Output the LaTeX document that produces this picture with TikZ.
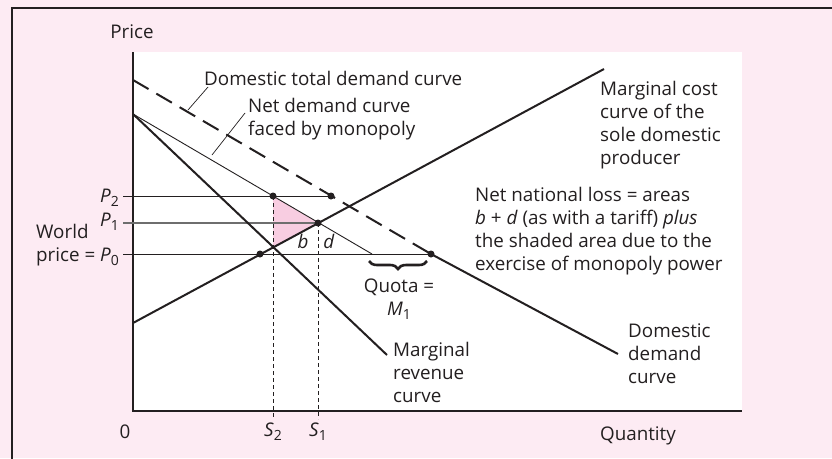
\documentclass[tikz,border=0pt]{standalone}
\usepackage{fontspec}
\setmainfont{Open Sans}
\usetikzlibrary{decorations.pathreplacing}
\definecolor{panelpink}{HTML}{FDEBF3}
\definecolor{losspink}{HTML}{F8CDE1}
\definecolor{pricegray}{HTML}{6E6E6E}
\definecolor{inkdark}{HTML}{231F20}
\newcommand{\ital}[2]{\textit{#1}\raisebox{-0.45ex}{\fontsize{14}{14}\selectfont #2}}

\begin{document}
\begin{tikzpicture}[x=1pt, y=-1pt, font=\fontsize{18.8}{23}\selectfont, color=inkdark,
  curve/.style={line width=2pt},
  thinline/.style={line width=0.9pt},
  guide/.style={line width=0.8pt, dash pattern=on 4pt off 3pt},
  dot/.style={circle, fill=inkdark, inner sep=0pt, minimum size=7pt},
  lbl/.style={align=left, inner sep=0pt, anchor=base west},
  leader/.style={line width=0.7pt}]
% background panel
\fill[panelpink] (0,0) rectangle (832,458);
\useasboundingbox (0,0) rectangle (832,458);
\draw[line width=1.6pt] (12,460) -- (12,8) -- (834,8);
\fill[white] (133,52) rectangle (742,411);
% key points
\coordinate (orig) at (133,411);
\coordinate (ytop) at (133,52);
\coordinate (xend) at (742,411);
\coordinate (dtop) at (133,80);
\coordinate (ntop) at (133,114);
\coordinate (mcbot) at (133,323);
\coordinate (mctop) at (604,69);
\coordinate (mrend) at (387,355);
\coordinate (ndend) at (372,254);
\coordinate (ddend) at (618,354);
\coordinate (mrmc) at (273,247);
% shaded loss
\fill[losspink] (273,196) -- (318,223) -- (mrmc) -- cycle;
% axes
\draw[line width=1.2pt] (ytop) -- (orig) -- (xend);
% price lines
\draw[thinline] (123,196) -- (331,196);
\draw[line width=1.2pt, pricegray] (123,223) -- (318,223);
\draw[thinline] (123,254) -- (431,254);
% quantity guides
\draw[guide] (273,196) -- (273,419);
\draw[guide] (318,223) -- (318,419);
% curves
\draw[curve, dash pattern=on 18pt off 9pt] (dtop) -- (431,254);
\draw[curve] (431,254) -- (ddend);
\draw[thinline] (ntop) -- (ndend);
\draw[curve] (ntop) -- (mrend);
\draw[curve] (mcbot) -- (mctop);
% dots
\node[dot] (p2net) at (273,196) {};
\node[dot] (p2dom) at (331,196) {};
\node[dot] (p1eq) at (318,223) {};
\node[dot] (p0sup) at (260,254) {};
\node[dot] (p0dom) at (431,254) {};
% quota brace
\draw[line width=2.6pt, decorate, decoration={brace, mirror, amplitude=8pt}] (369,261) -- (427,261);
% axis labels
\node[anchor=base] (pricelbl) at (132,38) {Price};
\node[anchor=base] (quantlbl) at (638,440) {Quantity};
\node[anchor=base] (zerolbl) at (125,438) {0};
\node[anchor=base] (s2lbl) at (273,436) {\ital{S}{2}};
\node[anchor=base] (s1lbl) at (318,436) {\ital{S}{1}};
\node[anchor=east, inner sep=0pt] (p2lbl) at (119,198) {\ital{P}{2}};
\node[anchor=east, inner sep=0pt] (p1lbl) at (119,222) {\ital{P}{1}};
\node[lbl, anchor=base east] (p0lbl) at (119,261) {price = \ital{P}{0}};
\node[lbl] (worldlbl) at (p0lbl.west |- 0,238) {World};
% area labels
\node[anchor=base] (blbl) at (303,248) {\textit{b}};
\node[anchor=base] (dlbl) at (329,248) {\textit{d}};
\node[align=center, anchor=base] (quotalbl) at (399,315) {Quota =\\\ital{M}{1}};
% curve labels (base = last line)
\node[lbl] (dtdlbl) at (204,85) {Domestic total demand curve};
\node[lbl] (ndlbl) at (248,135) {Net demand curve\\faced by monopoly};
\node[lbl] (mclbl) at (600,164) {Marginal cost\\curve of the\\sole domestic\\producer};
\node[lbl] (losslbl) at (475,270) {Net national loss = areas\\\textit{b} + \textit{d} (as with a tariff) \textit{plus}\\the shaded area due to the\\exercise of monopoly power};
\node[lbl] (mrlbl) at (393,402) {Marginal\\revenue\\curve};
\node[lbl] (ddlbl) at (628,383) {Domestic\\demand\\curve};
% leaders
\coordinate (dtdfoot) at (188,110);
\coordinate (dtdtip) at (208,87);
\coordinate (ndfoot) at (212,155);
\coordinate (ndtip) at (245,113);
\draw[leader] (dtdfoot) -- (dtdtip);
\draw[leader] (ndfoot) -- (ndtip);
\end{tikzpicture}
\end{document}
